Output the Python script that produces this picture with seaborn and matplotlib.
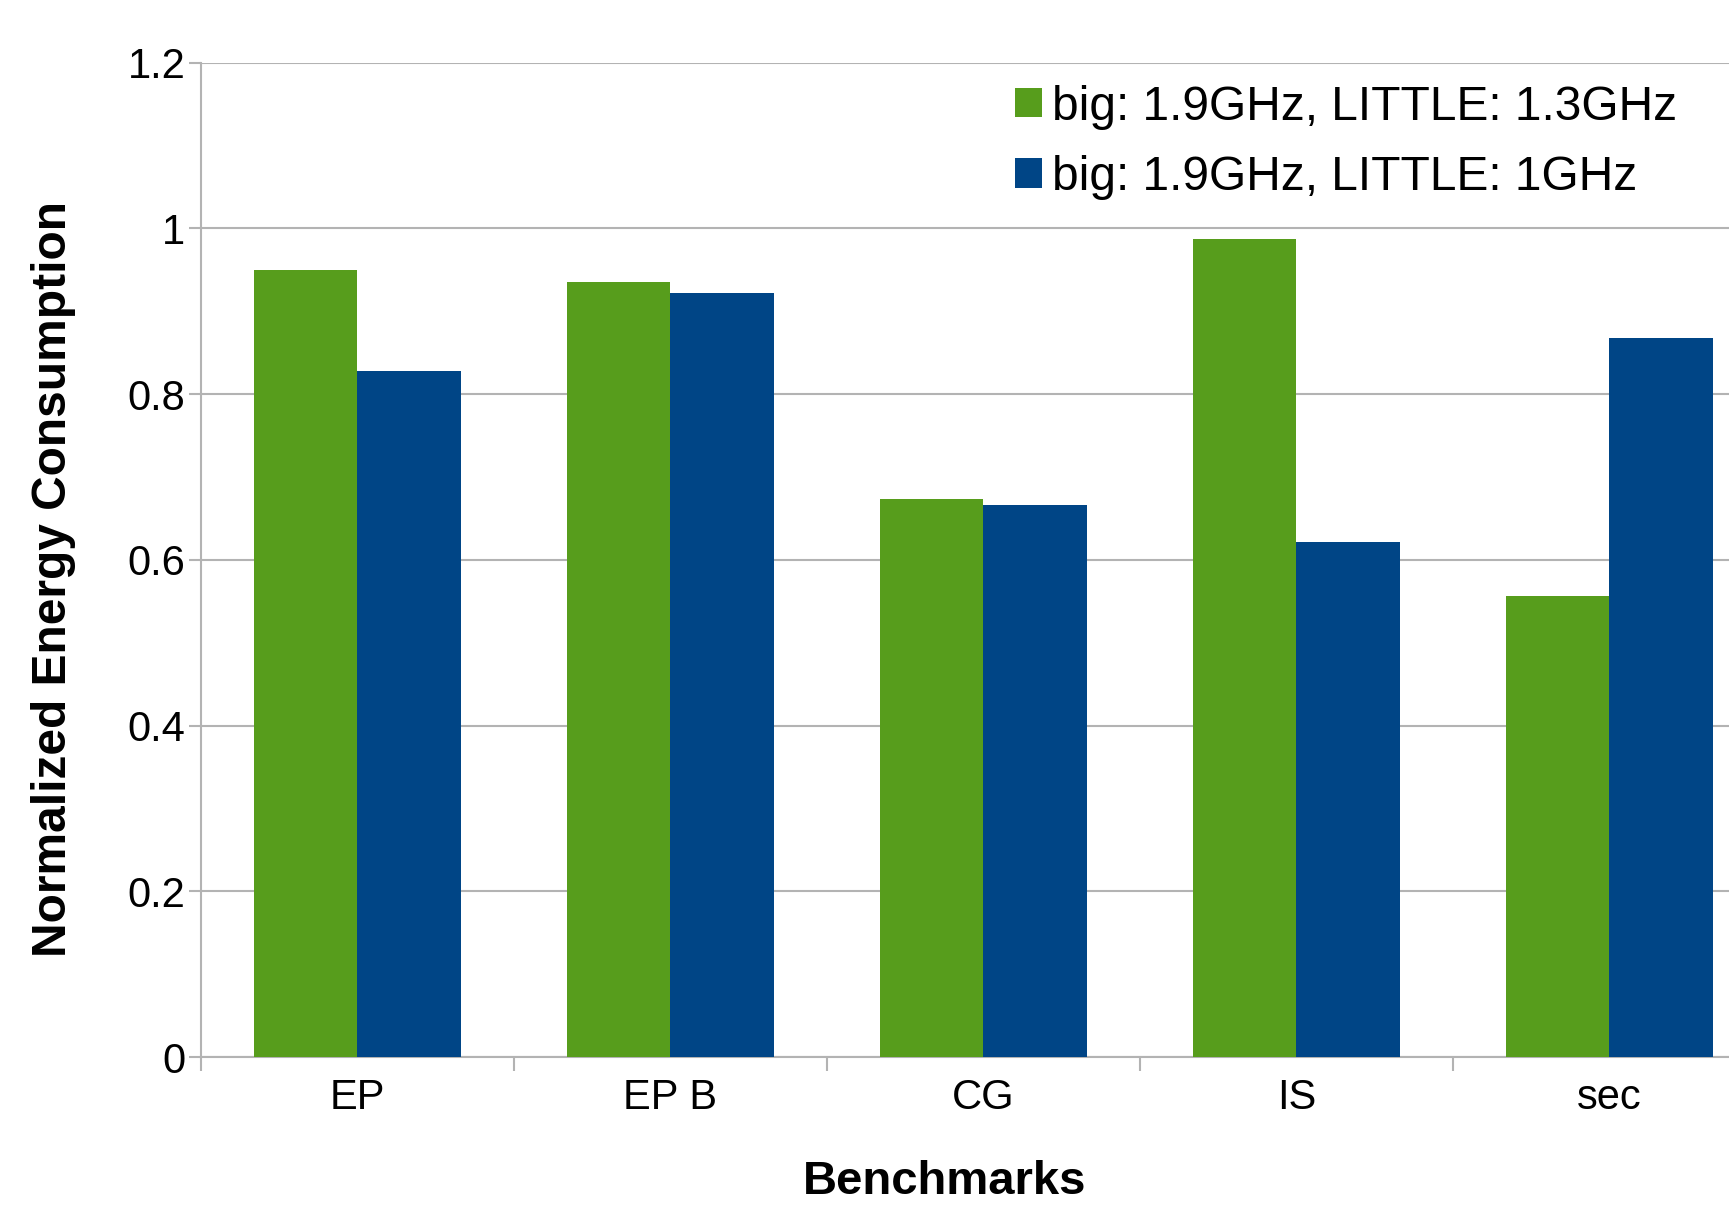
import matplotlib
matplotlib.use("Agg")
import matplotlib.pyplot as plt
import numpy as np
import pandas as pd
import seaborn as sns

benchmarks = ["EP", "EP B", "CG", "IS", "sec"]
series_names = ["big: 1.9GHz, LITTLE: 1.3GHz", "big: 1.9GHz, LITTLE: 1GHz"]
little_13 = [0.950, 0.935, 0.674, 0.987, 0.557]
little_10 = [0.828, 0.922, 0.666, 0.621, 0.868]
colors = ["#579d1c", "#004586"]
y_ticks = [0, 0.2, 0.4, 0.6, 0.8, 1.0, 1.2]
y_tick_labels = ["0", "0.2", "0.4", "0.6", "0.8", "1", "1.2"]

df = pd.DataFrame({
    "Benchmark": benchmarks * 2,
    "Config": [series_names[0]] * len(benchmarks) + [series_names[1]] * len(benchmarks),
    "Energy": little_13 + little_10,
})

sns.set_theme(style="white")
plt.rcParams["font.family"] = ["Liberation Sans", "DejaVu Sans"]
plt.rcParams["text.color"] = "black"
plt.rcParams["xtick.color"] = "black"
plt.rcParams["ytick.color"] = "black"
plt.rcParams["axes.labelcolor"] = "black"

fig = plt.figure(figsize=(17.29, 12.06), dpi=100)
ax = fig.add_axes([0.1161, 0.1235, 0.9053, 0.8245])

sns.barplot(data=df, x="Benchmark", y="Energy", hue="Config", order=benchmarks,
            hue_order=series_names, palette=colors, width=0.66, saturation=1,
            edgecolor="none", linewidth=0, ax=ax, zorder=3)

grid_col = "#b3b3b3"
ax.set_ylim(0, 1.2)
ax.set_xlim(-0.5, len(benchmarks) - 0.5)
ax.set_yticks(y_ticks)
ax.set_yticklabels(y_tick_labels)
ax.yaxis.grid(True, color=grid_col, linewidth=1.5, zorder=0)
ax.set_axisbelow(True)

for side in ["top", "right"]:
    ax.spines[side].set_visible(False)
for side in ["left", "bottom"]:
    ax.spines[side].set_color(grid_col)
    ax.spines[side].set_linewidth(1.5)

ax.tick_params(axis="y", which="major", length=9, width=1.5, color=grid_col,
               labelcolor="black", labelsize=30, pad=2, left=True)
ax.tick_params(axis="x", which="major", length=0, labelsize=30, labelcolor="black", pad=15)
ax.set_xticks(np.arange(-0.5, len(benchmarks)), minor=True)
ax.tick_params(axis="x", which="minor", length=10, width=1.5, color=grid_col, bottom=True)

ax.set_xlabel("Benchmarks", fontsize=34, fontweight="bold")
ax.set_ylabel("Normalized Energy Consumption", fontsize=34.5, fontweight="bold")
ax.xaxis.set_label_coords(0.475, -0.104)
ax.yaxis.set_label_coords(-0.0795, 0.481)

leg = ax.legend(loc="upper left", bbox_to_anchor=(0.52, 0.978), frameon=False,
                fontsize=34.5, handlelength=0.56, handleheight=0.56, handletextpad=0.22,
                labelspacing=0.53, borderaxespad=0, borderpad=0)
for t in leg.get_texts():
    t.set_color("black")

fig.savefig("out.png", dpi=100)
